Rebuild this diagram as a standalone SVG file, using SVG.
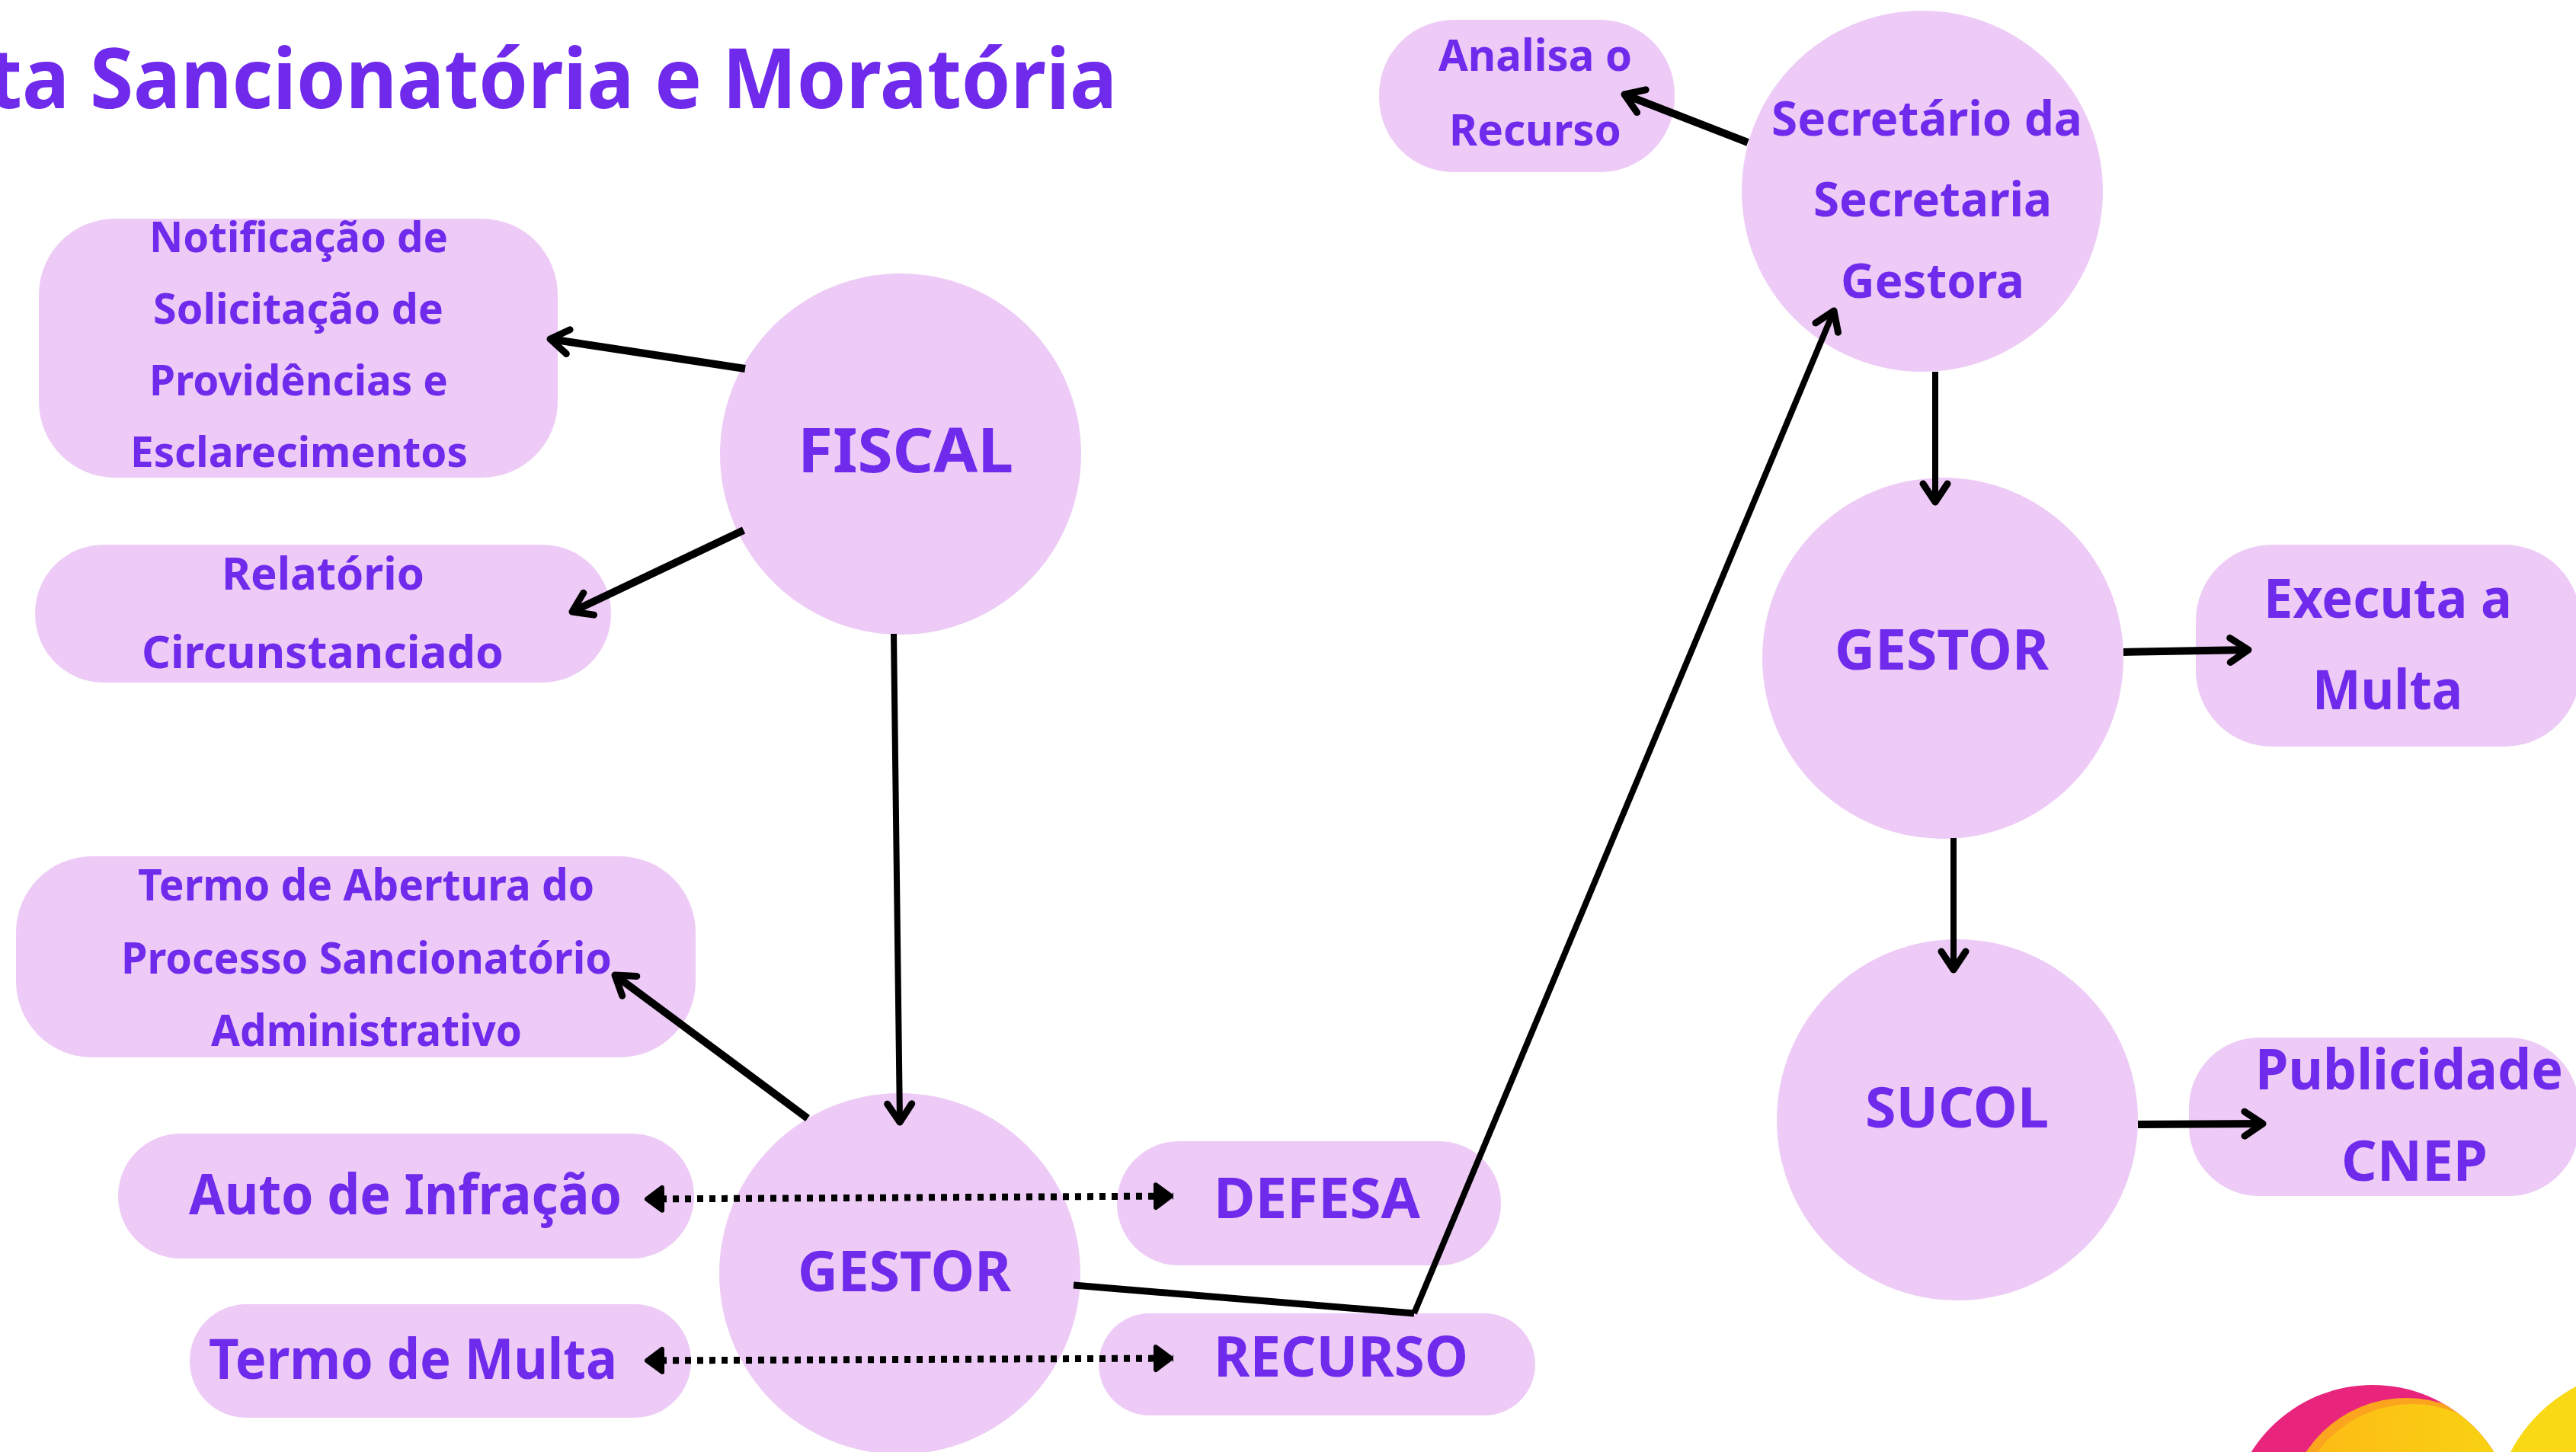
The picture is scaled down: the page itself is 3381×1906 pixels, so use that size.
<svg xmlns="http://www.w3.org/2000/svg" width="3381" height="1906" viewBox="0 0 3381 1906">
<style>
.n{fill:#edcbf6}
text{fill:#6f2aeb;font-family:"Noto Sans","Open Sans","Liberation Sans",sans-serif;font-weight:700}
.c{fill:none;stroke:#000;stroke-width:10;marker-end:url(#a)}
.t{stroke-width:8}
.d{fill:none;stroke:#000;stroke-width:9;stroke-dasharray:8 8;stroke-dashoffset:11;marker-start:url(#f);marker-end:url(#f)}
</style>
<defs>
<marker id="a" viewBox="-32 -22 38 44" refX="0" refY="0" markerWidth="38" markerHeight="44" markerUnits="userSpaceOnUse" orient="auto"><path d="M-24 -16L0 0L-24 16" fill="none" stroke="#000" stroke-width="9" stroke-linecap="round" stroke-linejoin="round"/></marker>
<marker id="f" viewBox="-32 -22 38 44" refX="0" refY="0" markerWidth="38" markerHeight="44" markerUnits="userSpaceOnUse" orient="auto-start-reverse"><path d="M-23 -15L-3 0L-23 15Z" fill="#000" stroke="#000" stroke-width="6" stroke-linejoin="round"/></marker>
<linearGradient id="y" x1="0" x2="1" y1="0" y2="0"><stop offset="0" stop-color="#fdb916"/><stop offset="1" stop-color="#f8d612"/></linearGradient>
<clipPath id="o"><circle cx="3114" cy="2006" r="188"/></clipPath>
</defs>
<rect width="3381" height="1906" fill="#fff"/>
<g id="title"><text x="-16" y="142" font-size="110" textLength="1482" lengthAdjust="spacingAndGlyphs">ta Sancionatória e Moratória</text></g>
<g id="notificacao"><rect class="n" x="51" y="287" width="681" height="340" rx="100"/>
<text x="196" y="331" font-size="56" textLength="392" lengthAdjust="spacingAndGlyphs">Notificação de</text>
<text x="201" y="425" font-size="56" textLength="381" lengthAdjust="spacingAndGlyphs">Solicitação de</text>
<text x="196" y="519" font-size="56" textLength="392" lengthAdjust="spacingAndGlyphs">Providências e</text>
<text x="171" y="613" font-size="56" textLength="443" lengthAdjust="spacingAndGlyphs">Esclarecimentos</text></g>
<g id="relatorio"><rect class="n" x="46" y="715" width="756" height="181" rx="90"/>
<text x="291" y="774" font-size="60" textLength="266" lengthAdjust="spacingAndGlyphs">Relatório</text>
<text x="186" y="877" font-size="60" textLength="475" lengthAdjust="spacingAndGlyphs">Circunstanciado</text></g>
<g id="fiscal"><circle class="n" cx="1182" cy="596" r="237"/>
<text x="1047" y="620" font-size="81" textLength="283" lengthAdjust="spacingAndGlyphs">FISCAL</text></g>
<g id="termo-abertura"><rect class="n" x="21" y="1124" width="892" height="264" rx="100"/>
<text x="181" y="1182" font-size="58" textLength="599" lengthAdjust="spacingAndGlyphs">Termo de Abertura do</text>
<text x="159" y="1278" font-size="58" textLength="644" lengthAdjust="spacingAndGlyphs">Processo Sancionatório</text>
<text x="277" y="1373" font-size="58" textLength="408" lengthAdjust="spacingAndGlyphs">Administrativo</text></g>
<g id="auto-infracao"><rect class="n" x="155" y="1488" width="756" height="164" rx="82"/>
<text x="248" y="1594" font-size="73" textLength="568" lengthAdjust="spacingAndGlyphs">Auto de Infração</text></g>
<g id="termo-multa"><rect class="n" x="249" y="1712" width="658" height="149" rx="74"/>
<text x="274" y="1810" font-size="73" textLength="536" lengthAdjust="spacingAndGlyphs">Termo de Multa</text></g>
<g id="gestor-1"><circle class="n" cx="1181" cy="1672" r="237"/>
<text x="1047" y="1695" font-size="73" textLength="280" lengthAdjust="spacingAndGlyphs">GESTOR</text></g>
<g id="defesa"><rect class="n" x="1466" y="1498" width="504" height="163" rx="81"/>
<text x="1593" y="1599" font-size="73" textLength="271" lengthAdjust="spacingAndGlyphs">DEFESA</text></g>
<g id="recurso"><rect class="n" x="1442" y="1724" width="573" height="134" rx="67"/>
<text x="1593" y="1807" font-size="73" textLength="334" lengthAdjust="spacingAndGlyphs">RECURSO</text></g>
<g id="analisa"><rect class="n" x="1810" y="26" width="388" height="200" rx="98"/>
<text x="1888" y="93" font-size="58" textLength="254" lengthAdjust="spacingAndGlyphs">Analisa o</text>
<text x="1902" y="191" font-size="58" textLength="226" lengthAdjust="spacingAndGlyphs">Recurso</text></g>
<g id="secretario"><circle class="n" cx="2523" cy="251" r="237"/>
<text x="2325" y="178" font-size="63" textLength="408" lengthAdjust="spacingAndGlyphs">Secretário da</text>
<text x="2380" y="284" font-size="63" textLength="313" lengthAdjust="spacingAndGlyphs">Secretaria</text>
<text x="2416" y="391" font-size="63" textLength="241" lengthAdjust="spacingAndGlyphs">Gestora</text></g>
<g id="gestor-2"><circle class="n" cx="2550" cy="864" r="237"/>
<text x="2408" y="879" font-size="73" textLength="281" lengthAdjust="spacingAndGlyphs">GESTOR</text></g>
<g id="executa"><rect class="n" x="2882" y="715" width="505" height="265" rx="100"/>
<text x="2971" y="811" font-size="72" textLength="326" lengthAdjust="spacingAndGlyphs">Executa a</text>
<text x="3035" y="931" font-size="72" textLength="197" lengthAdjust="spacingAndGlyphs">Multa</text></g>
<g id="sucol"><circle class="n" cx="2569" cy="1470" r="237"/>
<text x="2448" y="1480" font-size="73" textLength="241" lengthAdjust="spacingAndGlyphs">SUCOL</text></g>
<g id="publicidade"><rect class="n" x="2873" y="1362" width="512" height="208" rx="92"/>
<text x="2960" y="1430" font-size="73" textLength="404" lengthAdjust="spacingAndGlyphs">Publicidade</text>
<text x="3073" y="1550" font-size="73" textLength="192" lengthAdjust="spacingAndGlyphs">CNEP</text></g>
<g id="connectors">
<path class="c" d="M978 484L722 445"/>
<path class="c" d="M976 696L751 803"/>
<path class="c t" d="M1173 832L1181 1473"/>
<path class="c" d="M1060 1468L807 1280"/>
<path class="d" d="M846 1574L1540 1570"/>
<path class="d" d="M846 1786L1540 1783"/>
<path d="M1409 1687L1856 1724" fill="none" stroke="#000" stroke-width="9"/>
<path class="c t" d="M1856 1724L2407 408"/>
<path class="c" d="M2294 187L2132 124"/>
<path class="c t" d="M2540 488L2540 659"/>
<path class="c" d="M2787 856L2951 853"/>
<path class="c t" d="M2564 1100L2564 1273"/>
<path class="c" d="M2806 1476L2970 1475"/>
</g>
<g id="logo">
<circle cx="3114" cy="2006" r="188" fill="#e8247c"/>
<g clip-path="url(#o)"><circle cx="3158" cy="1992" r="157" fill="#fba51f"/>
<circle cx="3166" cy="1997" r="154" fill="url(#y)"/></g>
<circle cx="3475" cy="2000" r="203" fill="#f9d815"/>
</g>
</svg>
